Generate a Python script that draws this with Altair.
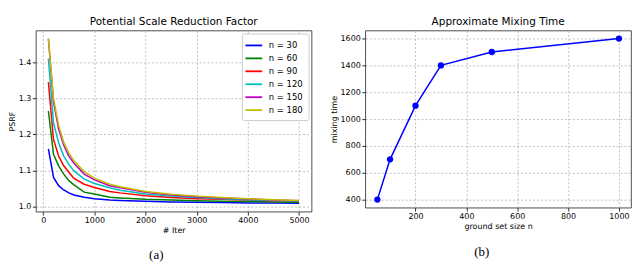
import altair as alt
import pandas as pd

iters = [100, 200, 300, 400, 500, 600, 800, 1000, 1300, 1500, 2000, 2500, 3000, 3500, 4000, 4500, 5000]
n30 = [1.160, 1.081, 1.058, 1.046, 1.038, 1.032, 1.026, 1.022, 1.018, 1.017, 1.015, 1.013, 1.012, 1.011, 1.010, 1.010, 1.009]
n60 = [1.265, 1.145, 1.113, 1.090, 1.072, 1.060, 1.040, 1.035, 1.026, 1.024, 1.020, 1.018, 1.016, 1.015, 1.014, 1.013, 1.012]
n90 = [1.345, 1.186, 1.140, 1.113, 1.095, 1.078, 1.062, 1.053, 1.042, 1.038, 1.030, 1.025, 1.022, 1.020, 1.018, 1.016, 1.015]
n120 = [1.410, 1.232, 1.177, 1.140, 1.117, 1.099, 1.076, 1.064, 1.052, 1.045, 1.035, 1.029, 1.025, 1.022, 1.019, 1.017, 1.015]
n150 = [1.465, 1.290, 1.215, 1.170, 1.140, 1.120, 1.090, 1.074, 1.058, 1.052, 1.040, 1.032, 1.027, 1.024, 1.021, 1.018, 1.016]
n180 = [1.465, 1.300, 1.225, 1.178, 1.148, 1.127, 1.097, 1.079, 1.062, 1.055, 1.042, 1.034, 1.029, 1.025, 1.022, 1.019, 1.017]
series_names = ["n = 30", "n = 60", "n = 90", "n = 120", "n = 150", "n = 180"]
series_colors = ["#0000ff", "#008000", "#ff0000", "#00bfbf", "#bf00bf", "#bfbf00"]

ground_n = [50, 100, 200, 300, 500, 1000]
mixing_time = [400, 700, 1100, 1400, 1500, 1600]

FONT = "DejaVu Sans"
SERIF = "Liberation Serif"

rows = []
for name, vals in zip(series_names, [n30, n60, n90, n120, n150, n180]):
    for it, v in zip(iters, vals):
        rows.append({"iter": it, "psrf": v, "series": name})
df_left = pd.DataFrame(rows)
df_right = pd.DataFrame({"n": ground_n, "t": mixing_time})

def axis(values, fmt):
    return alt.Axis(values=values, format=fmt, grid=True, gridDash=[2, 2], gridColor="#b0b0b0",
                    gridWidth=0.8, domain=False, ticks=True, tickColor="#000", tickSize=3.5,
                    tickWidth=0.8, labelFont=FONT, labelFontSize=8, labelColor="#000",
                    labelPadding=1.5, titleFont=FONT, titleFontSize=8, titleFontWeight="normal",
                    titleColor="#000", titlePadding=1.5)

LW, LH = 277, 182
left_lines = alt.Chart(df_left).mark_line(strokeWidth=1.5, clip=True).encode(
    x=alt.X("iter:Q", scale=alt.Scale(domain=[-145, 5245], nice=False, zero=False),
            axis=axis([0, 1000, 2000, 3000, 4000, 5000], "d"), title="# Iter"),
    y=alt.Y("psrf:Q", scale=alt.Scale(domain=[0.986, 1.488], nice=False, zero=False),
            axis=axis([1.0, 1.1, 1.2, 1.3, 1.4], ".1f"), title="PSRF"),
    color=alt.Color("series:N", sort=series_names,
                    scale=alt.Scale(domain=series_names, range=series_colors),
                    legend=alt.Legend(title=None, orient="top-right", offset=3,
                                      symbolType="M-1.4,0H1.4", symbolSize=144, symbolStrokeWidth=1.8,
                                      labelFont=FONT, labelFontSize=8.5, labelColor="#000",
                                      fillColor="white", strokeColor="#cccccc", padding=5,
                                      cornerRadius=2, rowPadding=1, labelOffset=8)),
    detail="series:N",
)
cap_a = alt.Chart(pd.DataFrame({"c": ["(a)"]})).mark_text(
    font=SERIF, fontSize=13, color="#000", baseline="middle", align="center"
).encode(text="c:N", x=alt.value(121), y=alt.value(226))

left = alt.layer(left_lines, cap_a).properties(
    width=LW, height=LH,
    title=alt.TitleParams("Potential Scale Reduction Factor", font=FONT, fontSize=10.5,
                          fontWeight="normal", color="#000", offset=3))

RW, RH = 267, 178
right_line = alt.Chart(df_right).encode(
    x=alt.X("n:Q", scale=alt.Scale(domain=[2.5, 1047.5], nice=False, zero=False),
            axis=axis([200, 400, 600, 800, 1000], "d"), title="ground set size n"),
    y=alt.Y("t:Q", scale=alt.Scale(domain=[340, 1660], nice=False, zero=False),
            axis=axis([400, 600, 800, 1000, 1200, 1400, 1600], "d"), title="mixing time"),
)
right_l = right_line.mark_line(color="#0000ff", strokeWidth=1.5)
right_p = right_line.mark_point(color="#0000ff", filled=True, size=40, opacity=1)
cap_b = alt.Chart(pd.DataFrame({"c": ["(b)"]})).mark_text(
    font=SERIF, fontSize=13, color="#000", baseline="middle", align="center"
).encode(text="c:N", x=alt.value(117), y=alt.value(223))

right = alt.layer(right_l, right_p, cap_b).properties(
    width=RW, height=RH,
    title=alt.TitleParams("Approximate Mixing Time", font=FONT, fontSize=10.5,
                          fontWeight="normal", color="#000", offset=3))

chart = alt.hconcat(left, right, spacing=17).resolve_legend(color="independent").resolve_scale(
    color="independent", x="independent", y="independent"
).properties(
    padding={"left": 0, "top": 8, "right": 0, "bottom": 0}
).configure_view(stroke="#222", strokeWidth=0.8)

chart.save("out.html", embed_options={"renderer": "svg", "actions": False})
